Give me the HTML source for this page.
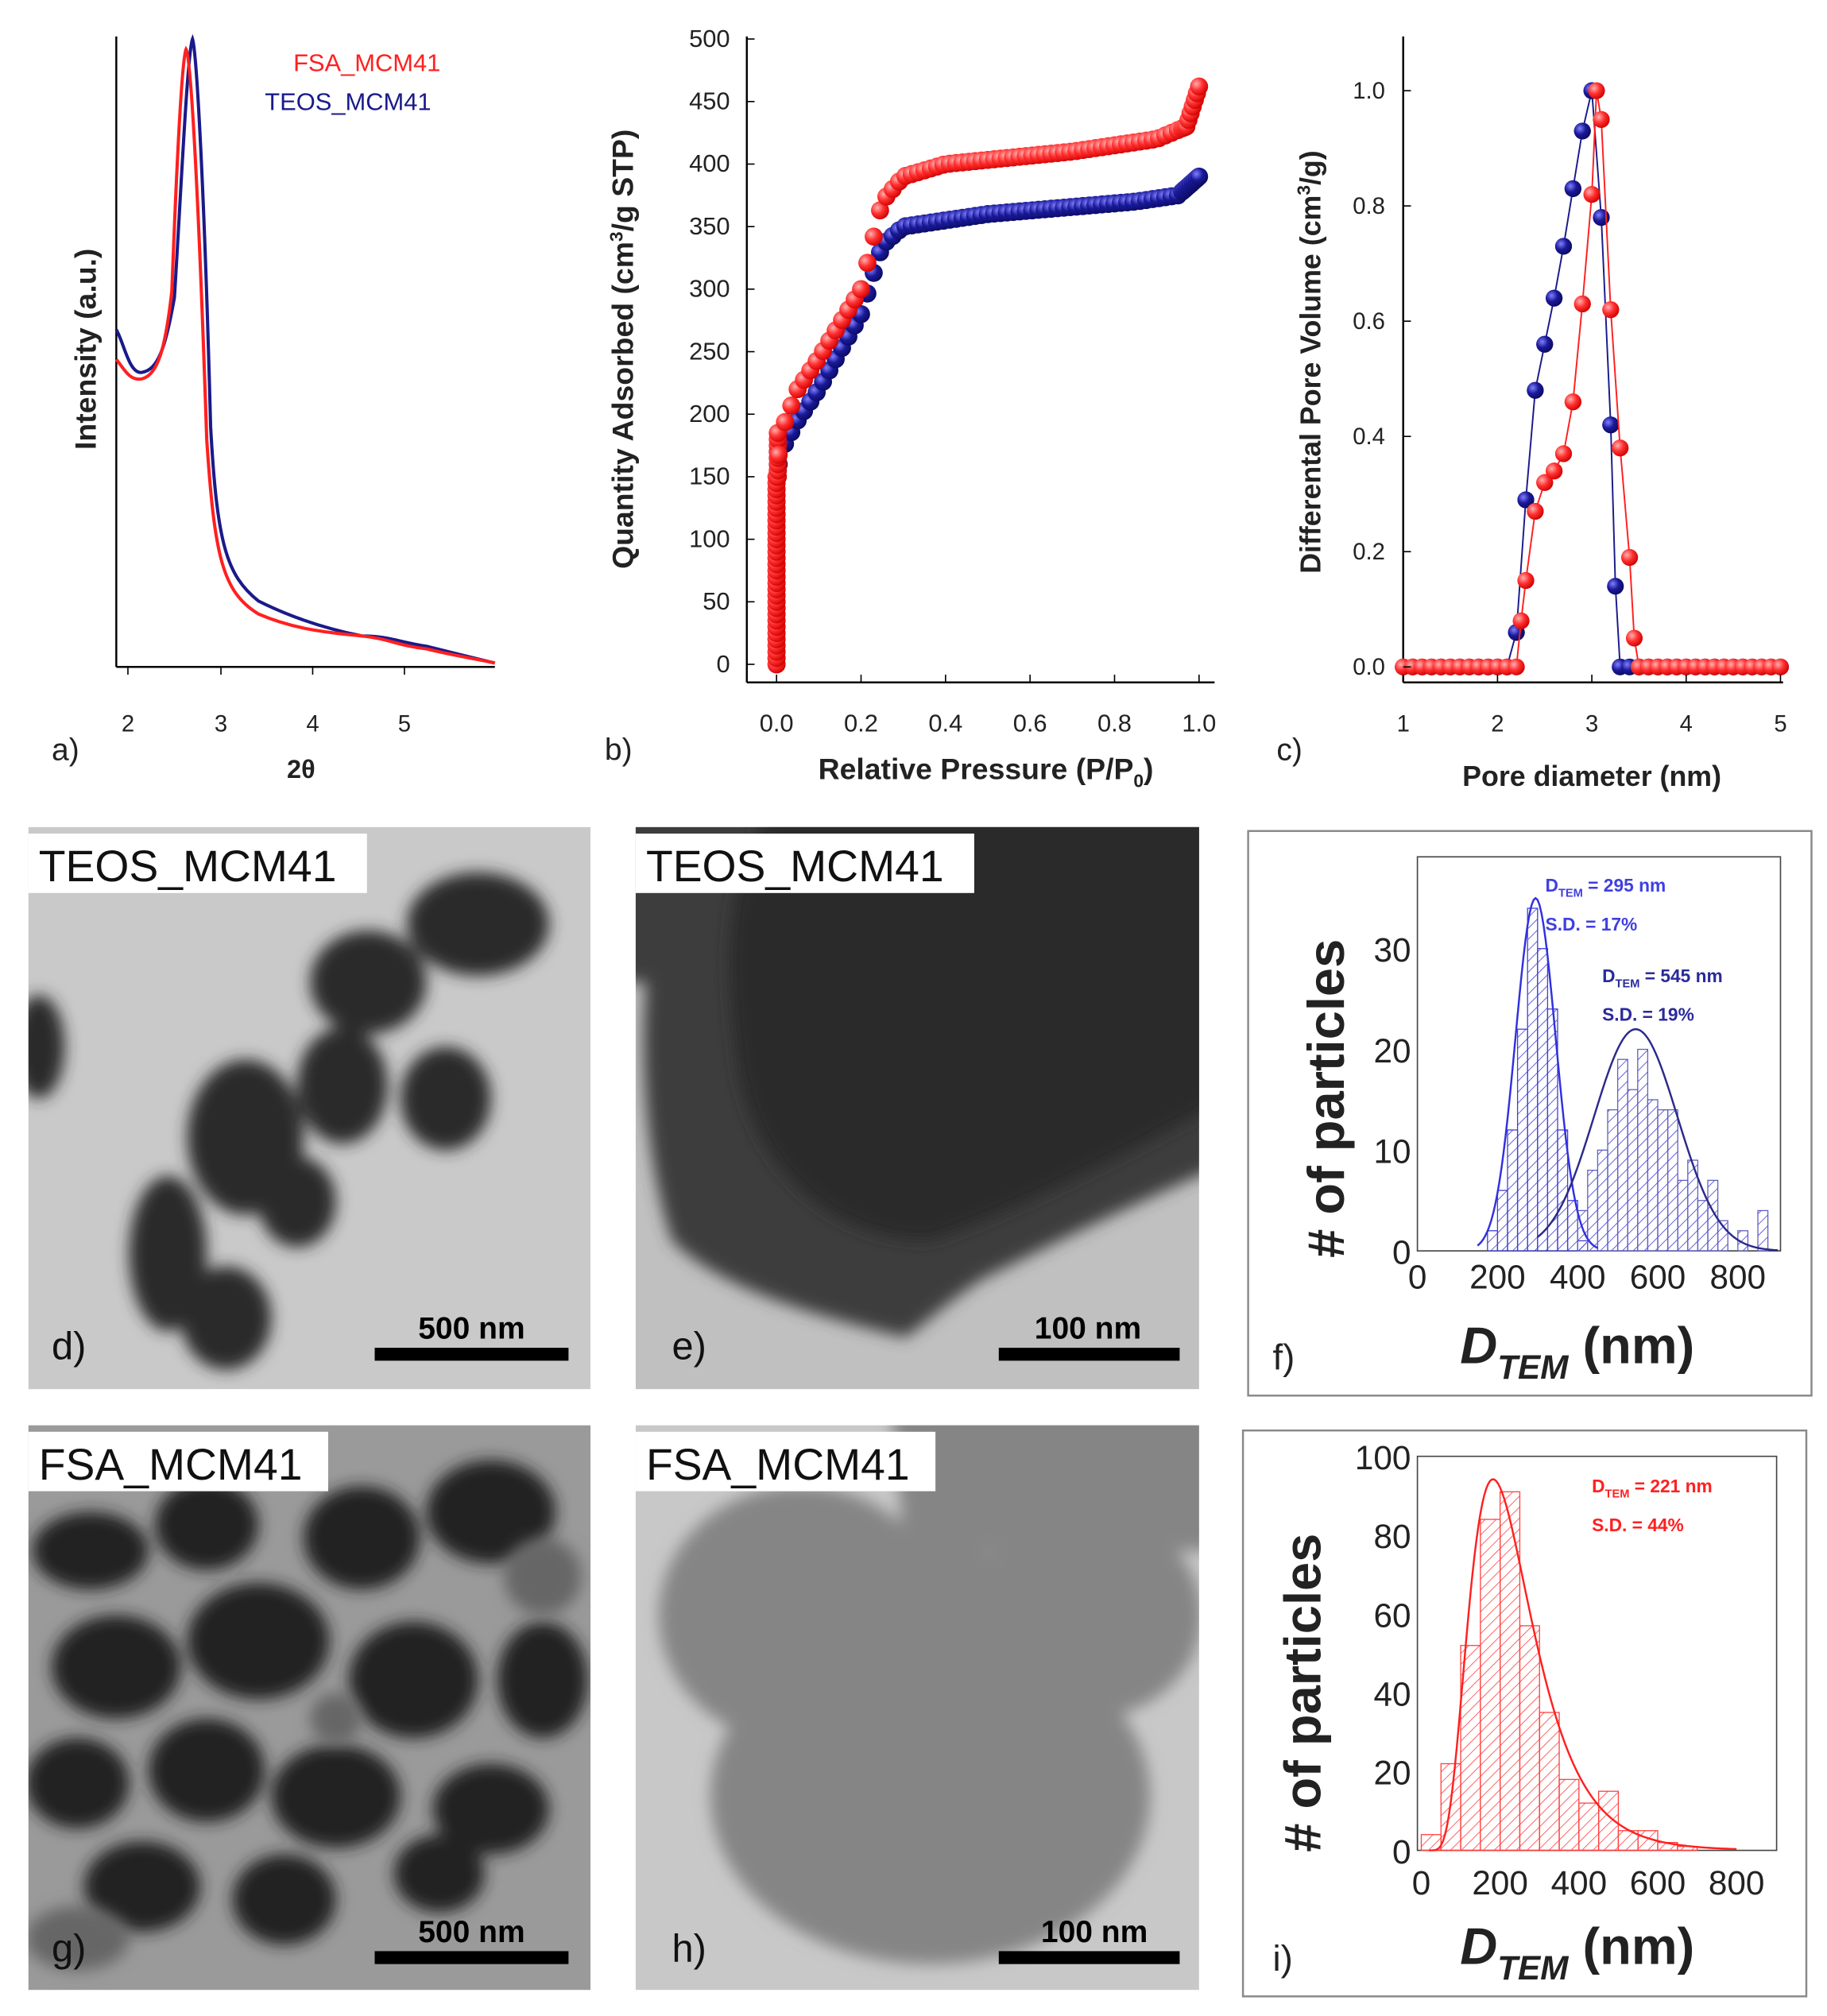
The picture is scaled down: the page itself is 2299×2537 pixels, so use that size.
<!DOCTYPE html>
<html><head><meta charset="utf-8">
<style>
html,body{margin:0;padding:0;background:#fff;}
svg{display:block;}
text{font-family:"Liberation Sans",Arial,sans-serif;}
</style></head>
<body>
<svg id="s" width="2299" height="2537" viewBox="0 0 1414 1560" xmlns="http://www.w3.org/2000/svg">
<defs>
<radialGradient id="gr" cx="35%" cy="35%" r="70%"><stop offset="0" stop-color="#ffb0b0"/><stop offset="0.5" stop-color="#ff3030"/><stop offset="1" stop-color="#d00000"/></radialGradient>
<radialGradient id="gb" cx="35%" cy="35%" r="70%"><stop offset="0" stop-color="#8080ff"/><stop offset="0.5" stop-color="#1a1a9a"/><stop offset="1" stop-color="#0a0a60"/></radialGradient>
<pattern id="hb" width="6" height="6" patternUnits="userSpaceOnUse" patternTransform="rotate(45)"><line x1="0" y1="0" x2="0" y2="6" stroke="#4040d0" stroke-width="1"/></pattern>
<pattern id="hr" width="6" height="6" patternUnits="userSpaceOnUse" patternTransform="rotate(45)"><line x1="0" y1="0" x2="0" y2="6" stroke="#ff4040" stroke-width="1"/></pattern>
<filter id="blur"><feGaussianBlur stdDeviation="6"/></filter>
<clipPath id="ch"><rect x="492" y="1103" width="436" height="437"/></clipPath>
<clipPath id="ce"><rect x="492" y="640" width="436" height="435"/></clipPath>
<clipPath id="cd"><rect x="22" y="640" width="435" height="435"/></clipPath>
<clipPath id="cg"><rect x="22" y="1103" width="435" height="437"/></clipPath>
</defs>

<!-- Panel a -->
<g id="pa">
<line x1="90" y1="28" x2="90" y2="516" stroke="#000" stroke-width="1.5"/>
<line x1="90" y1="516" x2="383" y2="516" stroke="#000" stroke-width="1.5"/>
<g font-size="18" fill="#222" text-anchor="middle">
<text x="99" y="566">2</text><text x="171" y="566">3</text><text x="242" y="566">4</text><text x="313" y="566">5</text>
</g>
<g stroke="#000"><line x1="99" y1="516" x2="99" y2="522"/><line x1="171" y1="516" x2="171" y2="522"/><line x1="242" y1="516" x2="242" y2="522"/><line x1="313" y1="516" x2="313" y2="522"/></g>
<text x="233" y="602" font-size="20" font-weight="bold" text-anchor="middle" fill="#222">2θ</text>
<text x="40" y="588" font-size="24" fill="#222">a)</text>
<text transform="translate(74,270) rotate(-90)" font-size="23" font-weight="bold" text-anchor="middle" fill="#222">Intensity (a.u.)</text>
<text x="227" y="55" font-size="19" fill="#ff2020">FSA_MCM41</text>
<text x="205" y="85" font-size="19" fill="#1a1a8a">TEOS_MCM41</text>
<path d="M90,255 C96,265 100,290 110,288 C122,286 128,270 135,230 C140,150 145,40 149,30 C152,40 158,140 163,330 C168,420 175,445 200,465 C230,480 260,488 280,492 C300,492 310,497 330,500 C350,505 370,510 383,513" fill="none" stroke="#1a1a8a" stroke-width="2.5"/>
<path d="M90,278 C96,285 100,295 110,293 C122,290 128,270 133,225 C137,120 141,45 144,38 C148,45 154,160 160,340 C166,430 172,458 200,475 C230,488 260,490 280,492 C300,494 310,500 330,502 C350,507 370,510 383,513" fill="none" stroke="#ff2020" stroke-width="2.5"/>
</g>

<!-- Panel b -->
<g id="pb">
<line x1="578" y1="28" x2="578" y2="528" stroke="#000" stroke-width="1.5"/>
<line x1="578" y1="528" x2="940" y2="528" stroke="#000" stroke-width="1.5"/>
<g font-size="19" fill="#222" text-anchor="end" id="bty"></g>
<g font-size="19" fill="#222" text-anchor="middle" id="btx"></g>
<text x="763" y="603" font-size="23" font-weight="bold" text-anchor="middle" fill="#222">Relative Pressure (P/P<tspan font-size="14" dy="6">0</tspan><tspan dy="-6">)</tspan></text>
<text x="468" y="588" font-size="24" fill="#222">b)</text>
<text transform="translate(490,270) rotate(-90)" font-size="23" font-weight="bold" text-anchor="middle" fill="#222">Quantity Adsorbed (cm<tspan font-size="14" dy="-8">3</tspan><tspan dy="8">/g STP)</tspan></text>
<g id="bdata"></g>
</g>

<!-- Panel c -->
<g id="pc">
<line x1="1086" y1="28" x2="1086" y2="528" stroke="#000" stroke-width="1.5"/>
<line x1="1086" y1="528" x2="1380" y2="528" stroke="#000" stroke-width="1.5"/>
<g font-size="18" fill="#222" text-anchor="end" id="cty"></g>
<g font-size="18" fill="#222" text-anchor="middle" id="ctx"></g>
<text x="1232" y="608" font-size="22" font-weight="bold" text-anchor="middle" fill="#222">Pore diameter (nm)</text>
<text x="988" y="588" font-size="24" fill="#222">c)</text>
<text transform="translate(1022,280) rotate(-90)" font-size="22" font-weight="bold" text-anchor="middle" fill="#222">Differental Pore Volume (cm<tspan font-size="14" dy="-8">3</tspan><tspan dy="8">/g)</tspan></text>
<g id="cdata"></g>
</g>

<!-- TEM d -->
<g>
<rect x="22" y="640" width="435" height="435" fill="#c9c9c9"/>
<g fill="#2a2a2a" filter="url(#blur)" clip-path="url(#cd)">
<ellipse cx="370" cy="715" rx="55" ry="40"/>
<ellipse cx="285" cy="760" rx="45" ry="40"/>
<ellipse cx="265" cy="840" rx="35" ry="45"/>
<ellipse cx="190" cy="880" rx="45" ry="60"/>
<ellipse cx="345" cy="850" rx="35" ry="40"/>
<ellipse cx="130" cy="970" rx="30" ry="60"/>
<ellipse cx="175" cy="1020" rx="35" ry="40"/>
<ellipse cx="230" cy="930" rx="30" ry="35"/>
<ellipse cx="30" cy="810" rx="20" ry="40"/>
</g>
<rect x="22" y="645" width="262" height="46" fill="#fff"/>
<text x="30" y="682" font-size="34" fill="#111">TEOS_MCM41</text>
<text x="40" y="1052" font-size="30" fill="#111">d)</text>
<rect x="290" y="1043" width="150" height="10" fill="#000"/>
<text x="365" y="1036" font-size="24" font-weight="bold" text-anchor="middle" fill="#000">500 nm</text>
</g>

<!-- TEM e -->
<g>
<rect x="492" y="640" width="436" height="435" fill="#c0c0c0"/>
<g clip-path="url(#ce)">
<path d="M470,620 L950,620 L950,900 C880,930 820,960 760,990 C730,1010 710,1030 700,1035 C640,1020 560,1000 520,960 C500,900 495,820 500,760 L470,760 Z" fill="#3c3c3c" filter="url(#blur)"/>
<path d="M510,620 L950,620 L950,850 C860,900 780,940 720,960 C640,960 580,900 570,820 C560,740 560,680 600,620 Z" fill="#2c2c2c" filter="url(#blur)"/>
</g>
<rect x="492" y="645" width="262" height="46" fill="#fff"/>
<text x="500" y="682" font-size="34" fill="#111">TEOS_MCM41</text>
<text x="520" y="1052" font-size="30" fill="#111">e)</text>
<rect x="773" y="1043" width="140" height="10" fill="#000"/>
<text x="842" y="1036" font-size="24" font-weight="bold" text-anchor="middle" fill="#000">100 nm</text>
</g>

<!-- Panel f -->
<g>
<rect x="966" y="643" width="436" height="437" fill="#fff" stroke="#888" stroke-width="1.5"/>
<rect x="1097" y="663" width="281" height="305" fill="none" stroke="#444" stroke-width="1"/>
<g id="fplot"></g>
<text transform="translate(1040,850) rotate(-90)" font-size="40" font-weight="bold" text-anchor="middle" fill="#222"># of particles</text>
<text x="1130" y="1055" font-size="40" font-weight="bold" fill="#222"><tspan font-style="italic">D</tspan><tspan font-size="26" dy="12" font-style="italic">TEM</tspan><tspan dy="-12"> (nm)</tspan></text>
<text x="985" y="1060" font-size="28" fill="#222">f)</text>
<text x="1196" y="690" font-size="14" font-weight="bold" fill="#4040e0">D<tspan font-size="9" dy="4">TEM</tspan><tspan dy="-4"> = 295 nm</tspan></text>
<text x="1196" y="720" font-size="14" font-weight="bold" fill="#4040e0">S.D. = 17%</text>
<text x="1240" y="760" font-size="14" font-weight="bold" fill="#2a2a9a">D<tspan font-size="9" dy="4">TEM</tspan><tspan dy="-4"> = 545 nm</tspan></text>
<text x="1240" y="790" font-size="14" font-weight="bold" fill="#2a2a9a">S.D. = 19%</text>
</g>

<!-- TEM g -->
<g>
<rect x="22" y="1103" width="435" height="437" fill="#9a9a9a"/>
<g fill="#222" filter="url(#blur)" clip-path="url(#cg)">
<ellipse cx="70" cy="1200" rx="45" ry="30"/><ellipse cx="160" cy="1180" rx="40" ry="35"/><ellipse cx="280" cy="1190" rx="45" ry="40"/><ellipse cx="380" cy="1170" rx="50" ry="40"/>
<ellipse cx="90" cy="1290" rx="50" ry="40"/><ellipse cx="200" cy="1270" rx="55" ry="45"/><ellipse cx="320" cy="1300" rx="50" ry="45"/><ellipse cx="420" cy="1300" rx="35" ry="45"/>
<ellipse cx="60" cy="1380" rx="40" ry="35"/><ellipse cx="160" cy="1370" rx="45" ry="40"/><ellipse cx="260" cy="1390" rx="50" ry="40"/><ellipse cx="380" cy="1400" rx="45" ry="35"/>
<ellipse cx="110" cy="1460" rx="45" ry="35"/><ellipse cx="220" cy="1470" rx="40" ry="35"/><ellipse cx="340" cy="1450" rx="35" ry="30"/>
</g>
<g fill="#666" filter="url(#blur)" clip-path="url(#cg)"><ellipse cx="60" cy="1500" rx="40" ry="25"/><ellipse cx="420" cy="1220" rx="30" ry="30"/><ellipse cx="260" cy="1330" rx="20" ry="20"/></g>
<rect x="22" y="1108" width="232" height="46" fill="#fff"/>
<text x="30" y="1145" font-size="34" fill="#111">FSA_MCM41</text>
<text x="40" y="1518" font-size="30" fill="#111">g)</text>
<rect x="290" y="1510" width="150" height="10" fill="#000"/>
<text x="365" y="1503" font-size="24" font-weight="bold" text-anchor="middle" fill="#000">500 nm</text>
</g>

<!-- TEM h -->
<g>
<rect x="492" y="1103" width="436" height="437" fill="#c8c8c8"/>
<g fill="#858585" filter="url(#blur)" clip-path="url(#ch)">
<ellipse cx="620" cy="1250" rx="110" ry="100"/>
<ellipse cx="720" cy="1390" rx="170" ry="130"/>
<ellipse cx="840" cy="1250" rx="90" ry="80"/>
<path d="M690,1090 L950,1090 L950,1200 L700,1200 Z"/>
<ellipse cx="730" cy="1250" rx="60" ry="60"/>
</g>
<rect x="492" y="1108" width="232" height="46" fill="#fff"/>
<text x="500" y="1145" font-size="34" fill="#111">FSA_MCM41</text>
<text x="520" y="1518" font-size="30" fill="#111">h)</text>
<rect x="773" y="1510" width="140" height="10" fill="#000"/>
<text x="847" y="1503" font-size="24" font-weight="bold" text-anchor="middle" fill="#000">100 nm</text>
</g>

<!-- Panel i -->
<g>
<rect x="962" y="1107" width="436" height="438" fill="#fff" stroke="#888" stroke-width="1.5"/>
<rect x="1097" y="1127" width="278" height="305" fill="none" stroke="#444" stroke-width="1"/>
<g id="iplot"></g>
<text transform="translate(1022,1310) rotate(-90)" font-size="40" font-weight="bold" text-anchor="middle" fill="#222"># of particles</text>
<text x="1130" y="1520" font-size="40" font-weight="bold" fill="#222"><tspan font-style="italic">D</tspan><tspan font-size="26" dy="12" font-style="italic">TEM</tspan><tspan dy="-12"> (nm)</tspan></text>
<text x="985" y="1525" font-size="28" fill="#222">i)</text>
<text x="1232" y="1155" font-size="14" font-weight="bold" fill="#ff2020">D<tspan font-size="9" dy="4">TEM</tspan><tspan dy="-4"> = 221 nm</tspan></text>
<text x="1232" y="1185" font-size="14" font-weight="bold" fill="#ff2020">S.D. = 44%</text>
</g>
</svg>
<script>
var NS="http://www.w3.org/2000/svg";
function el(p,t,a,txt){var e=document.createElementNS(NS,t);for(var k in a)e.setAttribute(k,a[k]);if(txt!==undefined)e.textContent=txt;document.getElementById(p).appendChild(e);return e;}
for(var v=0;v<=500;v+=50){var y=514-v*0.968;el("bty","text",{x:565,y:y+6},v);el("pb","line",{x1:578,y1:y,x2:584,y2:y,stroke:"#000"});}
for(var i=0;i<=5;i++){var x=601+i*65.4;el("btx","text",{x:x,y:566},(i*0.2).toFixed(1));el("pb","line",{x1:x,y1:528,x2:x,y2:522,stroke:"#000"});}
function bx(p){return 601+p*327;} function by(q){return 514-q*0.968;}
function interp(pts,p){for(var i=0;i<pts.length-1;i++){if(p>=pts[i][0]&&p<=pts[i+1][0]){var t=(p-pts[i][0])/(pts[i+1][0]-pts[i][0]);return pts[i][1]+t*(pts[i+1][1]-pts[i][1]);}}return pts[pts.length-1][1];}
var blue=[[0,150],[0.01,170],[0.05,195],[0.1,220],[0.2,280],[0.25,335],[0.3,350],[0.5,360],[0.85,370],[0.95,375],[1.0,390]];
var red=[[0,150],[0.01,185],[0.05,220],[0.1,245],[0.2,300],[0.25,370],[0.3,390],[0.4,400],[0.7,410],[0.9,420],[0.97,430],[1.0,462]];
function series(pts,fill,step){
 for(var q=0;q<=150;q+=5){el("bdata","circle",{cx:bx(0),cy:by(q),r:7,fill:fill});}
 for(var q=150;q<=pts[1][1];q+=5){el("bdata","circle",{cx:bx(0.003),cy:by(q),r:7,fill:fill});}
 for(var p=0.005;p<=1.0001;p+=step){el("bdata","circle",{cx:bx(p),cy:by(interp(pts,p)),r:7,fill:fill});}
 for(var p=0.96;p<=1.0001;p+=0.005){el("bdata","circle",{cx:bx(p),cy:by(interp(pts,p)),r:7,fill:fill});}
}
series(blue,"url(#gb)",0.015);series(red,"url(#gr)",0.015);
for(var i=0;i<=5;i++){var v=i*0.2;var y=516-v*446;el("cty","text",{x:1072,y:y+6},v.toFixed(1));el("pc","line",{x1:1086,y1:y,x2:1092,y2:y,stroke:"#000"});}
for(var i=1;i<=5;i++){var x=1086+(i-1)*73;el("ctx","text",{x:x,y:566},i);el("pc","line",{x1:x,y1:528,x2:x,y2:522,stroke:"#000"});}
function cx(d){return 1086+(d-1)*73;} function cy(v){return 516-v*446;}
var cb=[[1,0],[2.1,0],[2.2,0.06],[2.3,0.29],[2.4,0.48],[2.5,0.56],[2.6,0.64],[2.7,0.73],[2.8,0.83],[2.9,0.93],[3.0,1.0],[3.1,0.78],[3.2,0.42],[3.25,0.14],[3.3,0],[5,0]];
var cr=[[1,0],[2.2,0],[2.25,0.08],[2.3,0.15],[2.4,0.27],[2.5,0.32],[2.6,0.34],[2.7,0.37],[2.8,0.46],[2.9,0.63],[3.0,0.82],[3.05,1.0],[3.1,0.95],[3.2,0.62],[3.3,0.38],[3.4,0.19],[3.45,0.05],[3.5,0],[5,0]];
function cser(pts,fill,stroke){var d="";pts.forEach(function(p,i){d+=(i?"L":"M")+cx(p[0])+","+cy(p[1]);});el("cdata","path",{d:d,fill:"none",stroke:stroke,"stroke-width":1.2});
 for(var x=1;x<=5;x+=0.1){var v=interp(pts,x);el("cdata","circle",{cx:cx(x),cy:cy(v),r:6.5,fill:fill});}
 pts.forEach(function(p){if(p[1]>0)el("cdata","circle",{cx:cx(p[0]),cy:cy(p[1]),r:6.5,fill:fill});});}
cser(cb,"url(#gb)","#1a1a8a");cser(cr,"url(#gr)","#ff2020");
function fx(v){return 1097+v*0.31;} function fy(v){return 968-v*7.8;}
[0,10,20,30].forEach(function(v){el("fplot","text",{x:1092,y:fy(v)+10,"font-size":26,"text-anchor":"end",fill:"#222"},v);});
[0,200,400,600,800].forEach(function(v){el("fplot","text",{x:fx(v),y:997,"font-size":26,"text-anchor":"middle",fill:"#222"},v);});
var hb1=[[175,2],[200,6],[225,12],[250,22],[275,34],[300,30],[325,24],[350,12],[375,5],[400,1]];
var hb2=[[400,4],[425,8],[450,10],[475,14],[500,19],[525,16],[550,20],[575,15],[600,14],[625,14],[650,7],[675,9],[700,5],[725,7],[750,3],[800,2],[850,4]];
hb1.forEach(function(b){el("fplot","rect",{x:fx(b[0]),y:fy(b[1]),width:7.75,height:fy(0)-fy(b[1]),fill:"url(#hb)",stroke:"#4040d0","stroke-width":0.8});});
hb2.forEach(function(b){el("fplot","rect",{x:fx(b[0]),y:fy(b[1]),width:7.75,height:fy(0)-fy(b[1]),fill:"url(#hb)",stroke:"#6060c0","stroke-width":0.8});});
function gpath(mu,sd,A,x0,x1,fxn,fyn){var d="";for(var x=x0;x<=x1;x+=5){var v=A*Math.exp(-Math.pow(x-mu,2)/(2*sd*sd));d+=(x==x0?"M":"L")+fxn(x)+","+fyn(v);}return d;}
el("fplot","path",{d:gpath(295,50,35,150,450,fx,fy),fill:"none",stroke:"#3030e0","stroke-width":1.5});
el("fplot","path",{d:gpath(545,104,22,300,900,fx,fy),fill:"none",stroke:"#2a2a8a","stroke-width":1.5});
function ix(v){return 1100+v*0.305;} function iy(v){return 1432-v*3.05;}
[0,20,40,60,80,100].forEach(function(v){el("iplot","text",{x:1092,y:iy(v)+10,"font-size":26,"text-anchor":"end",fill:"#222"},v);});
[0,200,400,600,800].forEach(function(v){el("iplot","text",{x:ix(v),y:1466,"font-size":26,"text-anchor":"middle",fill:"#222"},v);});
var hi=[[0,4],[50,22],[100,52],[150,84],[200,91],[250,57],[300,35],[350,18],[400,12],[450,15],[500,5],[550,5],[600,2],[650,1]];
hi.forEach(function(b){el("iplot","rect",{x:ix(b[0]),y:iy(b[1]),width:15.25,height:iy(0)-iy(b[1]),fill:"url(#hr)",stroke:"#ff4040","stroke-width":0.8});});
(function(){var d="";var mu=Math.log(221),s=0.44;for(var x=20;x<=800;x+=5){var v=90*Math.exp(-Math.pow(Math.log(x)-mu,2)/(2*s*s))*(221/x)*0.95;d+=(x==20?"M":"L")+ix(x)+","+iy(v);}el("iplot","path",{d:d,fill:"none",stroke:"#ff2020","stroke-width":1.5});})();
</script>
</body></html>
